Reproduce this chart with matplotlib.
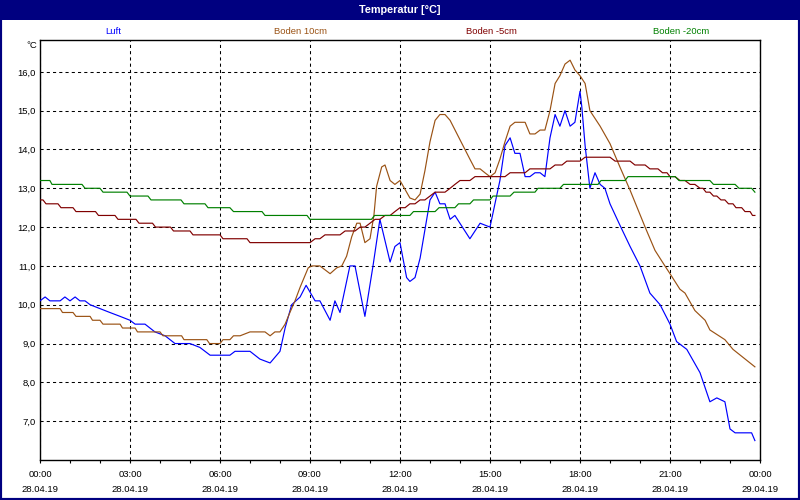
import matplotlib
matplotlib.use("Agg")
import matplotlib.pyplot as plt
from matplotlib.patches import Rectangle
from matplotlib.ticker import MultipleLocator

plt.rcParams['font.family'] = ['Liberation Sans', 'DejaVu Sans']

# ============================ Data (hours since 28.04.19 00:00, degC) ============================
luft_t = [0.0, 0.17, 0.33, 0.67, 0.83, 1.0, 1.17, 1.33, 1.5, 1.67, 2.0, 2.33, 2.67, 3.0, 3.17, 3.5,
          3.83, 4.17, 4.5, 5.0, 5.33, 5.5, 5.67, 6.33, 6.5, 7.0, 7.33, 7.67, 8.0, 8.17, 8.39, 8.67,
          8.87, 9.17, 9.33, 9.67, 9.83, 10.0, 10.33, 10.5, 10.83, 11.1, 11.33, 11.67, 11.83, 12.0,
          12.22, 12.33, 12.5, 12.67, 13.0, 13.17, 13.33, 13.5, 13.67, 13.83, 14.33, 14.67, 15.0,
          15.33, 15.5, 15.67, 15.83, 16.0, 16.17, 16.33, 16.5, 16.67, 16.83, 17.0, 17.17, 17.33,
          17.5, 17.67, 17.83, 18.0, 18.06, 18.17, 18.33, 18.5, 18.67, 18.83, 19.0, 19.33, 19.67,
          20.0, 20.33, 20.67, 21.0, 21.22, 21.56, 22.0, 22.33, 22.56, 22.83, 23.0, 23.17, 23.72, 23.83]
luft_v = [10.1, 10.2, 10.1, 10.1, 10.2, 10.1, 10.2, 10.1, 10.1, 10.0, 9.9, 9.8, 9.7, 9.6, 9.5, 9.5,
          9.3, 9.2, 9.0, 9.0, 8.9, 8.8, 8.7, 8.7, 8.8, 8.8, 8.6, 8.5, 8.8, 9.4, 10.0, 10.2,
          10.5, 10.1, 10.1, 9.6, 10.1, 9.8, 11.0, 11.0, 9.7, 11.0, 12.2, 11.1, 11.5, 11.6,
          10.7, 10.6, 10.7, 11.2, 12.7, 12.9, 12.6, 12.6, 12.2, 12.3, 11.7, 12.1, 12.0,
          13.2, 14.1, 14.3, 13.9, 13.9, 13.3, 13.3, 13.4, 13.4, 13.3, 14.3, 14.9, 14.6,
          15.0, 14.6, 14.7, 15.5, 15.1, 14.1, 13.0, 13.4, 13.1, 13.0, 12.6, 12.05, 11.5,
          11.0, 10.3, 10.0, 9.5, 9.05, 8.85, 8.25, 7.5, 7.6, 7.5, 6.8, 6.7, 6.7, 6.5]

b10_t = [0.0, 0.67, 0.75, 1.1, 1.2, 1.67, 1.75, 2.0, 2.1, 2.67, 2.75, 3.17, 3.25, 4.0, 4.1, 4.72,
         4.8, 5.56, 5.65, 6.0, 6.1, 6.33, 6.45, 6.67, 7.0, 7.5, 7.67, 7.83, 8.0, 8.17, 8.33, 8.5,
         8.67, 8.94, 9.06, 9.33, 9.67, 9.89, 10.06, 10.22, 10.39, 10.56, 10.67, 10.83, 11.0, 11.13,
         11.22, 11.39, 11.5, 11.67, 11.83, 12.0, 12.33, 12.5, 12.67, 12.83, 13.0, 13.17, 13.33,
         13.5, 13.67, 14.0, 14.33, 14.5, 14.67, 14.83, 15.0, 15.17, 15.33, 15.5, 15.67, 15.83,
         16.17, 16.33, 16.5, 16.67, 16.83, 17.0, 17.17, 17.33, 17.5, 17.67, 17.83, 18.0, 18.17,
         18.33, 18.67, 19.0, 19.33, 19.67, 20.17, 20.5, 20.83, 21.0, 21.33, 21.5, 21.83, 22.17,
         22.33, 22.83, 23.1, 23.83]
b10_v = [9.9, 9.9, 9.8, 9.8, 9.7, 9.7, 9.6, 9.6, 9.5, 9.5, 9.4, 9.4, 9.3, 9.3, 9.2, 9.2,
         9.1, 9.1, 9.0, 9.0, 9.1, 9.1, 9.2, 9.2, 9.3, 9.3, 9.2, 9.3, 9.3, 9.5, 9.8, 10.1,
         10.45, 10.95, 11.0, 11.0, 10.8, 10.95, 11.0, 11.25, 11.75, 12.1, 12.1, 11.6, 11.7, 12.3,
         13.05, 13.55, 13.6, 13.2, 13.1, 13.2, 12.75, 12.7, 12.85, 13.45, 14.2, 14.75, 14.9,
         14.9, 14.75, 14.25, 13.75, 13.5, 13.5, 13.4, 13.3, 13.4, 13.75, 14.2, 14.6, 14.7,
         14.7, 14.4, 14.4, 14.5, 14.5, 15.0, 15.7, 15.9, 16.2, 16.3, 16.05, 15.9, 15.7,
         15.0, 14.6, 14.15, 13.55, 12.95, 12.0, 11.4, 11.0, 10.8, 10.4, 10.3, 9.85, 9.6,
         9.35, 9.1, 8.85, 8.4]

b5_t = [0.0, 0.1, 0.2, 0.6, 0.7, 1.1, 1.2, 1.85, 1.95, 2.5, 2.6, 3.2, 3.3, 3.75, 3.85, 4.35,
        4.45, 5.0, 5.1, 6.0, 6.1, 6.9, 7.0, 9.0, 9.17, 9.33, 9.5, 10.0, 10.17, 10.5, 10.67,
        10.83, 11.0, 11.17, 11.33, 11.5, 11.67, 11.83, 12.0, 12.17, 12.33, 12.5, 12.67, 12.83,
        13.0, 13.17, 13.5, 13.67, 13.83, 14.0, 14.33, 14.5, 15.5, 15.67, 16.17, 16.33, 17.0,
        17.17, 17.4, 17.56, 18.0, 18.17, 19.0, 19.17, 19.67, 19.83, 20.17, 20.33, 20.6, 20.75,
        20.9, 21.0, 21.17, 21.33, 21.5, 21.67, 21.83, 22.0, 22.1, 22.2, 22.33, 22.45, 22.56,
        22.7, 22.83, 22.95, 23.1, 23.2, 23.39, 23.5, 23.67, 23.75, 23.83]
b5_v = [12.7, 12.7, 12.6, 12.6, 12.5, 12.5, 12.4, 12.4, 12.3, 12.3, 12.2, 12.2, 12.1, 12.1, 12.0, 12.0,
        11.9, 11.9, 11.8, 11.8, 11.7, 11.7, 11.6, 11.6, 11.7, 11.7, 11.8, 11.8, 11.9, 11.9, 12.0,
        12.0, 12.1, 12.2, 12.2, 12.3, 12.3, 12.4, 12.5, 12.5, 12.6, 12.6, 12.7, 12.7,
        12.8, 12.9, 12.9, 13.0, 13.1, 13.2, 13.2, 13.3, 13.3, 13.4, 13.4, 13.5, 13.5,
        13.6, 13.6, 13.7, 13.7, 13.8, 13.8, 13.7, 13.7, 13.6, 13.6, 13.5, 13.5, 13.4,
        13.4, 13.3, 13.3, 13.2, 13.2, 13.1, 13.1, 13.0, 13.0, 12.9, 12.9, 12.8, 12.8,
        12.7, 12.7, 12.6, 12.6, 12.5, 12.5, 12.4, 12.4, 12.3, 12.3]

b20_t = [0.0, 0.33, 0.4, 1.4, 1.5, 2.0, 2.1, 2.9, 3.0, 3.6, 3.7, 4.7, 4.8, 5.5, 5.6, 6.33, 6.45,
         7.4, 7.5, 8.9, 9.0, 11.05, 11.15, 12.33, 12.45, 13.17, 13.3, 13.83, 13.95, 14.33, 14.45,
         15.0, 15.1, 15.67, 15.8, 16.5, 16.6, 17.33, 17.45, 18.6, 18.7, 19.5, 19.6, 21.17, 21.3,
         22.33, 22.45, 23.17, 23.3, 23.72, 23.83]
b20_v = [13.2, 13.2, 13.1, 13.1, 13.0, 13.0, 12.9, 12.9, 12.8, 12.8, 12.7, 12.7, 12.6, 12.6, 12.5, 12.5, 12.4,
         12.4, 12.3, 12.3, 12.2, 12.2, 12.3, 12.3, 12.4, 12.4, 12.5, 12.5, 12.6, 12.6, 12.7,
         12.7, 12.8, 12.8, 12.9, 12.9, 13.0, 13.0, 13.1, 13.1, 13.2, 13.2, 13.3, 13.3, 13.2,
         13.2, 13.1, 13.1, 13.0, 13.0, 12.9]

series_names = ["Luft", "Boden 10cm", "Boden -5cm", "Boden -20cm"]
series_colors = ["#0000ff", "#9a5214", "#800000", "#008000"]

x_tick_hours = [0, 3, 6, 9, 12, 15, 18, 21, 24]
x_tick_labels = ["00:00\n28.04.19", "03:00\n28.04.19", "06:00\n28.04.19", "09:00\n28.04.19",
                 "12:00\n28.04.19", "15:00\n28.04.19", "18:00\n28.04.19", "21:00\n28.04.19",
                 "00:00\n29.04.19"]
y_ticks = [7, 8, 9, 10, 11, 12, 13, 14, 15, 16]

# ============================ Figure ============================
navy = "#000080"
fig = plt.figure(figsize=(8, 5), dpi=100, facecolor="white")
ax = fig.add_axes([0.05, 0.08, 0.9, 0.84])

# title bar and frame
fig.patches.append(Rectangle((0, 0.96), 1, 0.04, transform=fig.transFigure,
                             facecolor=navy, edgecolor="none", zorder=0))
fig.patches.append(Rectangle((0, 0), 1, 1, transform=fig.transFigure,
                             fill=False, edgecolor=navy, linewidth=3, zorder=0))
fig.text(0.5, 0.98, "Temperatur [°C]", color="white", fontsize=7.8, fontweight="bold",
         ha="center", va="center")

# legend labels
legend_x = [113, 300, 491, 681]
for name, col, px in zip(series_names, series_colors, legend_x):
    fig.text(px / 800, 1 - 31 / 500, name, color=col, fontsize=6.8, ha="center", va="center")
fig.text(37 / 800, 1 - 45 / 500, "°C", color="black", fontsize=6.8, ha="right", va="center")

# data
for t, v, col in zip([luft_t, b10_t, b5_t, b20_t], [luft_v, b10_v, b5_v, b20_v], series_colors):
    ax.plot(t, v, color=col, linewidth=0.85, zorder=3)

ax.set_xlim(0, 24)
ax.set_ylim(6.0, 16.82)
ax.set_xticks(x_tick_hours)
ax.set_xticklabels(x_tick_labels, fontsize=6.8, linespacing=1.75)
ax.xaxis.set_minor_locator(MultipleLocator(1))
ax.set_yticks(y_ticks)
ax.set_yticklabels([f"{v:.1f}".replace(".", ",") for v in y_ticks], fontsize=6.8)
ax.tick_params(axis="x", which="both", direction="out", length=2.5, width=0.8, pad=5)
ax.tick_params(axis="y", length=0, pad=3)

ax.grid(True, color="black", linestyle=(0, (3, 3)), linewidth=0.75)
ax.set_axisbelow(True)
for s in ax.spines.values():
    s.set_linewidth(1.0)
    s.set_color("black")

fig.savefig("out.png", dpi=100)
